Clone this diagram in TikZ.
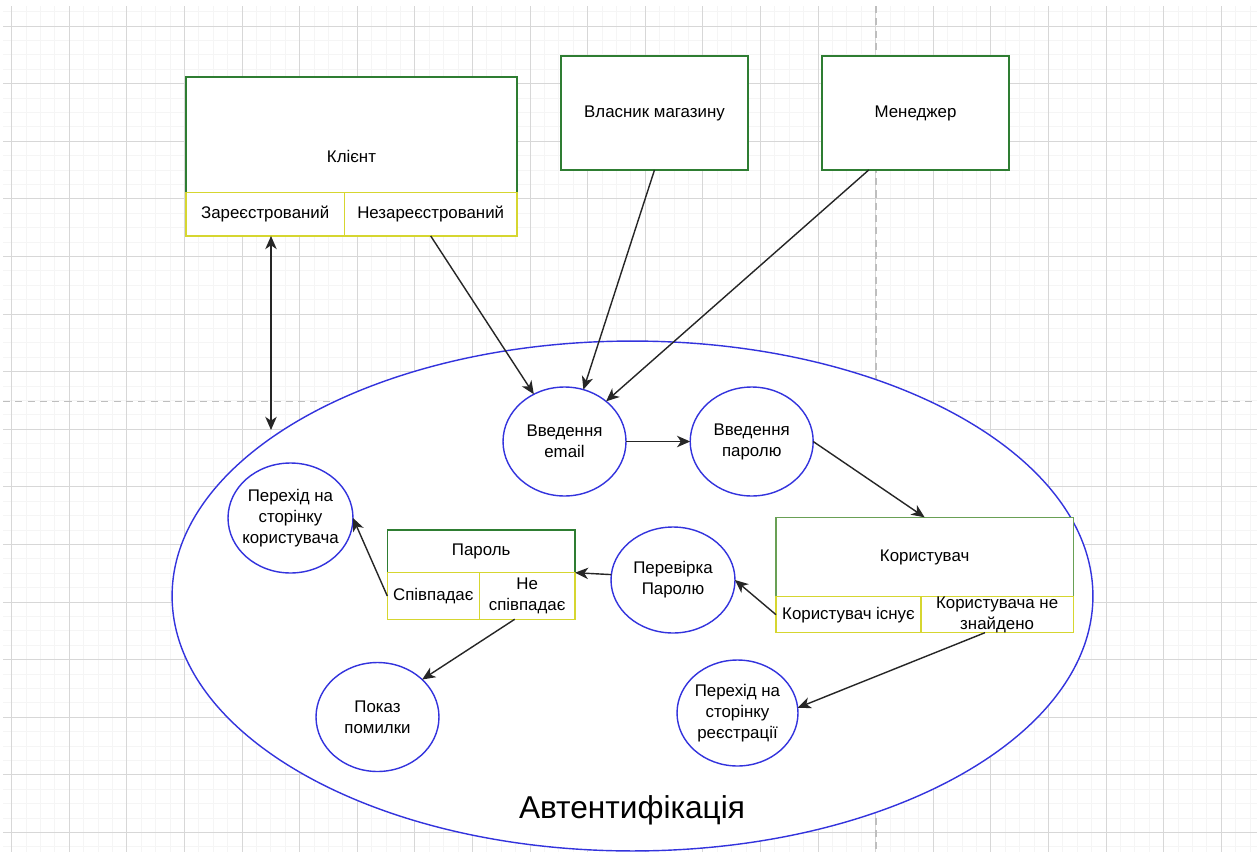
\documentclass[tikz,border=0pt]{standalone}
\usepackage{fontspec}
\setmainfont{Liberation Sans}
\usetikzlibrary{calc,positioning,shapes.geometric}
\usetikzlibrary{arrows.meta}
\definecolor{boxgreen}{RGB}{46,125,50}
\definecolor{usergreen}{RGB}{105,160,85}
\definecolor{cellyellow}{RGB}{214,214,48}
\definecolor{circblue}{RGB}{51,51,221}
\definecolor{gridmajor}{RGB}{215,215,215}
\definecolor{gridminor}{RGB}{245,245,245}
\definecolor{pagebreak}{RGB}{190,190,190}
\tikzset{>={Stealth[length=7.5pt,width=6.5pt,inset=2.2pt]}}

\begin{document}
\begin{tikzpicture}[x=0.02cm, y=-0.02cm, font=\fontsize{9.6}{12}\selectfont]
  \tikzstyle{gbox} = [draw=boxgreen, line width=0.8pt, rectangle, inner sep=0pt, outer sep=0pt, align=center, fill=white]
  \tikzstyle{ycell} = [draw=cellyellow, line width=0.8pt, rectangle, inner sep=0pt, outer sep=0pt, align=center, fill=white]
  \tikzstyle{cnode} = [draw=circblue, line width=0.8pt, ellipse, inner sep=-6pt, outer sep=0pt, align=center, fill=white,
                       minimum width=2.46cm, minimum height=2.18cm]
  \tikzstyle{link} = [->, line width=0.8pt, black!85]

  \useasboundingbox[fill=white] (0,0) rectangle (1257,852);
  \foreach \i in {0,...,86} \draw[gridminor, line width=0.5pt] ({11.7+14.4*\i},6) -- ++(0,846);
  \foreach \j in {-1,...,57} \draw[gridminor, line width=0.5pt] (3,{26+14.4*\j}) -- ++(1254,0);
  \foreach \i in {0,...,21} \draw[gridmajor, line width=0.55pt] ({11.7+57.6*\i},6) -- ++(0,846);
  \foreach \j in {0,...,14} \draw[gridmajor, line width=0.55pt] (3,{26+57.6*\j}) -- ++(1254,0);
  \draw[pagebreak, line width=0.7pt, dash pattern=on 4pt off 3pt] (876,6) -- (876,852);
  \draw[pagebreak, line width=0.7pt, dash pattern=on 4pt off 3pt] (3,401.5) -- (1257,401.5);

  \node[cnode, minimum width=18.42cm, minimum height=10.2cm] (auth) at (632.5,596) {};
  \node[font=\fontsize{18}{21}\selectfont] (authlbl) at (632,810) {Автентифікація};

  \node[gbox, anchor=north west, minimum width=6.62cm, minimum height=3.18cm] (client) at (186,77) {Клієнт};
  \node[ycell, anchor=south west, minimum width=3.17cm, minimum height=0.87cm] (reg) at (client.south west) {Зареєстрований};
  \node[ycell, right=0pt of reg, minimum width=3.45cm, minimum height=0.87cm] (unreg) {Незареєстрований};
  \node[gbox, anchor=north west, minimum width=3.74cm, minimum height=2.28cm] (owner) at (561,56) {Власник магазину};
  \node[gbox, anchor=north west, minimum width=3.74cm, minimum height=2.28cm] (mgr) at (822,56) {Менеджер};

  \node[cnode] (email) at (564.5,441.5) {Введення\\email};
  \node[cnode] (passw) at (751.7,441.5) {Введення\\паролю};
  \node[cnode, minimum width=2.48cm, minimum height=2.12cm] (check) at (673,580) {Перевірка\\Паролю};
  \node[cnode, minimum width=2.5cm, minimum height=2.2cm] (upage) at (290.5,518) {Перехід на\\сторінку\\користувача};
  \node[cnode] (err) at (377.5,717) {Показ\\помилки};
  \node[cnode, minimum width=2.42cm, minimum height=2.12cm] (rpage) at (737.5,713) {Перехід на\\сторінку\\реєстрації};

  \node[gbox, anchor=north west, minimum width=3.754cm, minimum height=0.854cm] (pw) at (387.3,530) {Пароль};
  \node[ycell, anchor=north west, minimum width=1.84cm, minimum height=0.932cm] (match) at (pw.south west) {Співпадає};
  \node[ycell, right=0pt of match, minimum width=1.914cm, minimum height=0.932cm] (nomatch) {Не\\співпадає};

  \node[gbox, draw=usergreen, anchor=north west, minimum width=5.946cm, minimum height=1.588cm] (user) at (776,517.3) {Користувач};
  \node[ycell, anchor=north west, minimum width=2.9cm, minimum height=0.72cm] (exist) at (user.south west) {Користувач існує};
  \node[ycell, right=0pt of exist, minimum width=3.046cm, minimum height=0.72cm] (notfound) {Користувача не\\знайдено};

  \coordinate (authin) at (271,430);
  \draw[link, <->] (reg.south -| authin) -- (authin);
  \draw[link] (unreg.south) -- (email.123);
  \draw[link] (owner.south) -- (email.70);
  \draw[link] ($(mgr.south west)!.25!(mgr.south east)$) -- (email.44);
  \draw[link] (email.east) -- (passw.west);
  \draw[link] (passw.east) -- (user.north);
  \draw[link] (exist.west) -- (check.east);
  \draw[link] (check.175) -- (pw.south east);
  \draw[link] (match.west) -- (upage.east);
  \draw[link] ($(nomatch.south west)!.37!(nomatch.south east)$) -- (err.40);
  \draw[link] ($(notfound.south west)!.42!(notfound.south east)$) -- (rpage.5);
\end{tikzpicture}
\end{document}
